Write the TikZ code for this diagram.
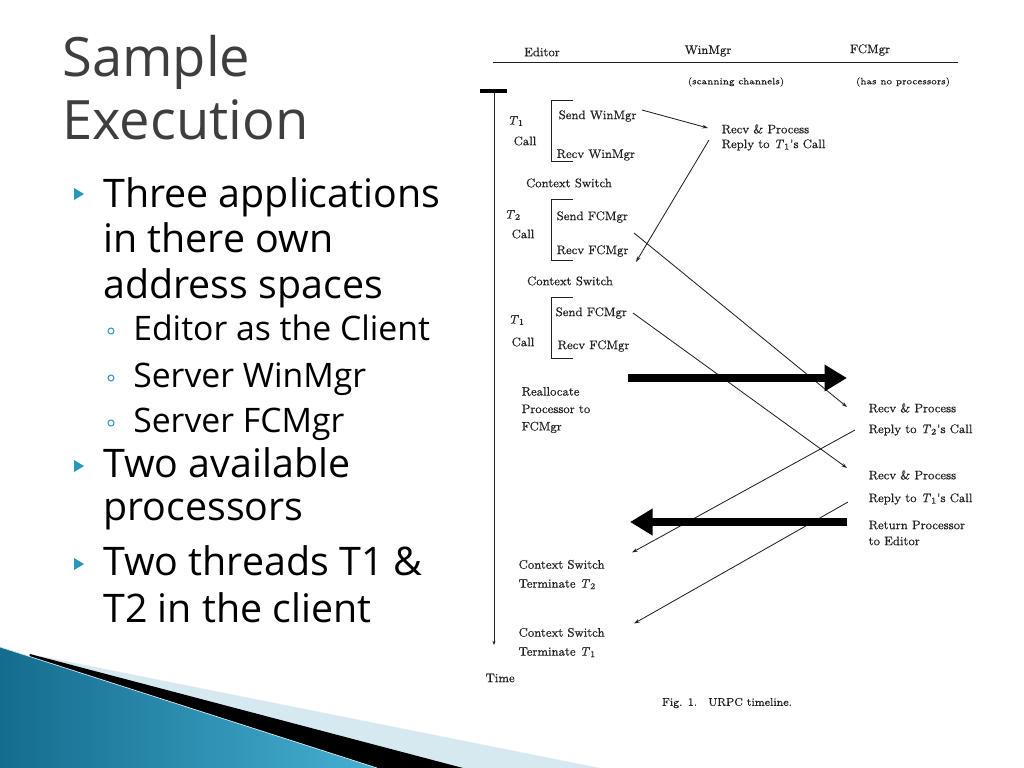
\documentclass[tikz,border=0pt]{standalone}
\usepackage{fontspec}
\usepackage{xcolor}
\usepackage{tikz}
\usetikzlibrary{positioning,calc,arrows.meta}
\newfontfamily\slidefont{Open Sans}
\newfontfamily\figfont[RawFeature={embolden=0.5}]{Latin Modern Roman}
\newcommand{\thr}[1]{\textit{T}\textsubscript{#1}}
\definecolor{bulletblue}{RGB}{42,150,190}
\definecolor{titlegray}{RGB}{62,62,62}
\definecolor{wedgedark}{RGB}{20,108,142}
\definecolor{wedgelight}{RGB}{70,176,210}
\definecolor{wedgepale}{RGB}{214,233,241}
\definecolor{scan}{RGB}{34,34,34}

\begin{document}
\begin{tikzpicture}[
    x=0.025cm, y=-0.025cm,
    title/.style={font=\slidefont\fontsize{38.6}{40}\selectfont, text=titlegray, anchor=base west, inner sep=0pt},
    itemone/.style={font=\slidefont\fontsize{28}{30}\selectfont, anchor=base west, inner sep=0pt},
    itemtwo/.style={font=\slidefont\fontsize{24}{26}\selectfont, anchor=base west, inner sep=0pt},
    figtext/.style={font=\figfont\fontsize{8.8}{12.4}\selectfont, text=scan, inner sep=1pt},
    lefttext/.style={figtext, anchor=west, align=left},
    smalltext/.style={font=\figfont\fontsize{6.5}{8}\selectfont, text=scan, inner sep=1pt},
    msg/.style={draw=scan, line width=0.6pt, -{Stealth[length=4pt,width=2.6pt]}},
    bigarrow/.style={draw=black, line width=5pt, -{Triangle[length=16pt,width=18pt]}}
]
    \useasboundingbox (0,0) rectangle (1024,768);
    \fill[white] (0,0) rectangle (1024,768);

    % Wedge
    \fill[wedgepale] (40,656) -- (600,768) -- (0,768) -- cycle;
    \fill[black] (30,654) -- (463,768) -- (0,768) -- cycle;
    \shade[left color=wedgedark, right color=wedgelight] (0,647) -- (377,768) -- (0,768) -- cycle;
    \draw[wedgepale, line width=0.5pt] (0,647) -- (377,768);

    % Title
    \node[title] (ttla) at (62,77) {Sample};
    \node[title] (ttlb) at (62,140) {Execution};

    % Bullets
    \node[itemone] (ia) at (103,207) {Three applications};
    \node[itemone] (ib) at (103,252) {in there own};
    \node[itemone] (ic) at (103,298) {address spaces};
    \node[itemtwo] (sa) at (133,340) {Editor as the Client};
    \node[itemtwo] (sb) at (133,387) {Server WinMgr};
    \node[itemtwo] (sc) at (133,432) {Server FCMgr};
    \node[itemone] (id) at (103,477) {Two available};
    \node[itemone] (ie) at (103,520) {processors};
    \node[itemone] (if) at (103,575) {Two threads T1 \&};
    \node[itemone] (ig) at (103,622) {T2 in the client};
    \fill[bulletblue] (74,188) -- (74,200) -- (84,194) -- cycle;
    \fill[bulletblue] (74,460) -- (74,472) -- (84,466) -- cycle;
    \fill[bulletblue] (74,558) -- (74,570) -- (84,564) -- cycle;
    \draw[bulletblue, line width=0.7pt] (111,331) circle (3);
    \draw[bulletblue, line width=0.7pt] (111,378) circle (3);
    \draw[bulletblue, line width=0.7pt] (111,423) circle (3);

    % Header
    \node[figtext] (editor) at (542,52) {Editor};
    \node[figtext] (winmgr) at (708,51) {WinMgr};
    \node[figtext] (fcmgr) at (870,50) {FCMgr};
    \draw[scan, line width=0.6pt] (493,62) -- (958,62);
    \node[smalltext] (scanning) at (736,82) {(scanning channels)};
    \node[smalltext] (noproc) at (903,82) {(has no processors)};

    % Time axis
    \draw[line width=3pt] (480,91) -- (507,91);
    \draw[scan, line width=0.7pt, -{Stealth[length=3pt,width=2.2pt]}] (494,91) -- (494,645);
    \node[lefttext] (time) at (484,678) {Time};

    % Editor side
    \node[lefttext] (ta) at (506,121) {\thr{1}};
    \node[figtext] (calla) at (525,141) {Call};
    \draw[scan, line width=0.6pt] (573,100) -- (551,100) -- (551,161) -- (573,161);
    \node[lefttext] (sendwm) at (557,116) {Send WinMgr};
    \node[lefttext] (recvwm) at (555,155) {Recv WinMgr};
    \node[figtext] (csa) at (569,183) {Context Switch};

    \node[lefttext] (tb) at (503,215) {\thr{2}};
    \node[figtext] (callb) at (523,234) {Call};
    \draw[scan, line width=0.6pt] (573,199) -- (551,199) -- (551,260) -- (573,260);
    \node[lefttext] (sendfa) at (555,217) {Send FCMgr};
    \node[lefttext] (recvfa) at (555,251) {Recv FCMgr};
    \node[figtext] (csb) at (570,281) {Context Switch};

    \node[lefttext] (tc) at (507,320) {\thr{1}};
    \node[figtext] (callc) at (523,342) {Call};
    \draw[scan, line width=0.6pt] (573,297) -- (551,297) -- (551,358) -- (573,358);
    \node[lefttext] (sendfb) at (554,313) {Send FCMgr};
    \node[lefttext] (recvfb) at (556,346) {Recv FCMgr};

    \node[lefttext] (realloc) at (520,410) {Reallocate\\Processor to\\FCMgr};
    \node[lefttext, font=\figfont\fontsize{8.8}{13.5}\selectfont] (csc) at (517,574.5) {Context Switch\\Terminate \thr{2}};
    \node[lefttext, font=\figfont\fontsize{8.8}{13.5}\selectfont] (csd) at (517,642.5) {Context Switch\\Terminate \thr{1}};

    % Server side
    \node[lefttext] (rpa) at (720,129) {Recv \& Process};
    \node[lefttext] (rya) at (720,145) {Reply to \thr{1}'s Call};
    \node[lefttext] (rpb) at (867,408) {Recv \& Process};
    \node[lefttext] (ryb) at (867,430) {Reply to \thr{2}'s Call};
    \node[lefttext] (rpc) at (867,475) {Recv \& Process};
    \node[lefttext] (ryc) at (867,499) {Reply to \thr{1}'s Call};
    \node[lefttext, font=\figfont\fontsize{8.8}{11.4}\selectfont] (retp) at (867,533) {Return Processor\\to Editor};

    % Messages
    \draw[msg] ([shift={(85,-6)}]sendwm.west) -- ([shift={(-12,-1)}]rpa.west);
    \draw[msg] ([shift={(-11,-5)}]rya.west) -- ([shift={(81,11)}]recvfa.west);
    \draw[msg] ([shift={(79,16)}]sendfa.west) -- ([shift={(-20,-1)}]rpb.west);
    \draw[msg] ([shift={(79,0)}]sendfb.west) -- ([shift={(-20,-7)}]rpc.west);
    \draw[msg] ([shift={(-12,0)}]ryb.west) -- ([shift={(115,-22)}]csc.west);
    \draw[msg] ([shift={(-19,3)}]ryc.west) -- ([shift={(117,-19)}]csd.west);

    % Processor moves
    \draw[bigarrow] ([shift={(108,-32)}]realloc.west) -- ([shift={(-20,-30)}]rpb.west);
    \draw[bigarrow] ([shift={(-20,-11)}]retp.west) -- ([shift={(113,-52.5)}]csc.west);

    \node[font=\figfont\fontsize{8}{10}\selectfont, text=scan] (caption) at (727,703) {Fig. 1.\quad URPC timeline.};
\end{tikzpicture}
\end{document}
